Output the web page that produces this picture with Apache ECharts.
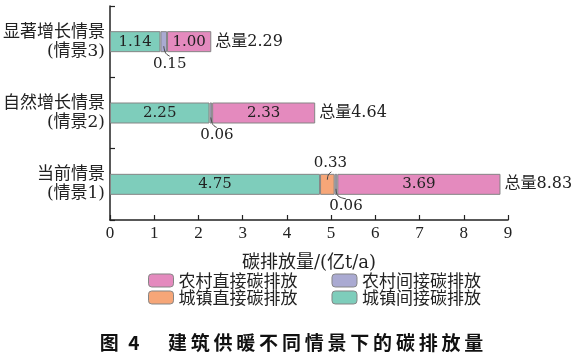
<!DOCTYPE html>
<html><head><meta charset="utf-8">
<script src="https://cdn.jsdelivr.net/npm/echarts@6/dist/echarts.min.js"></script>
<style>html,body{margin:0;padding:0;background:#fff}#c{width:583px;height:358px}</style>
</head><body><div id="c"></div>
<script>
var categories = ['当前情景\n(情景1)', '自然增长情景\n(情景2)', '显著增长情景\n(情景3)'];
var urbanIndirect = [4.75, 2.25, 1.14];
var urbanDirect = [0.33, 0, 0];
var ruralIndirect = [0.06, 0.06, 0.15];
var ruralDirect = [3.69, 2.33, 1.00];
var totals = [8.83, 4.64, 2.29];
var xTicks = [0, 1, 2, 3, 4, 5, 6, 7, 8, 9];
var seriesNames = ['城镇间接碳排放', '城镇直接碳排放', '农村间接碳排放', '农村直接碳排放'];

var NUM = "'DejaVu Serif','Noto Sans CJK SC'";
var CJK = "'Noto Sans CJK SC'";
var colors = ['#7ECDBB', '#F6A678', '#AAAAD2', '#E48ABE'];
var values = [urbanIndirect, urbanDirect, ruralIndirect, ruralDirect];

// annotations for small segments (outside labels with leader lines)
var notes = [];
for (var i = 0; i < categories.length; i++) {
  var start = 0;
  for (var s = 0; s < values.length; s++) {
    var v = values[s][i];
    if (v > 0 && v < 0.5) {
      var above = (s === 1);
      notes.push({mid: start + v / 2, cat: i, text: v.toFixed(2), above: above, shift: (i === 0 && !above) ? 10 : 6});
    }
    start += v;
  }
}

var barSeries = values.map(function (arr, s) {
  return {
    name: seriesNames[s], type: 'bar', stack: 'total', barWidth: 21,
    data: arr.map(function (v) { return v === 0 ? '-' : v; }),
    itemStyle: {color: colors[s], borderColor: '#858585', borderWidth: 1},
    label: {
      show: true, position: 'inside', color: '#222', fontFamily: NUM, fontSize: 15,
      formatter: function (p) { return p.value >= 0.5 ? p.value.toFixed(2) : ''; }
    },
    emphasis: {disabled: true}
  };
});

var noteSeries = {
  type: 'custom', silent: true, z: 10,
  data: notes.map(function (n) { return [n.mid, n.cat]; }),
  renderItem: function (params, api) {
    var n = notes[params.dataIndex];
    var c = api.coord([api.value(0), api.value(1)]);
    var h = 10.5, cx = c[0], cy = c[1], pts, tx, ty, va;
    if (n.above) {
      pts = [[cx, cy - h + 6], [cx + 1, cy - h + 1], [cx + 4, cy - h - 2]];
      tx = cx + 3; ty = cy - h - 3; va = 'bottom';
    } else {
      pts = [[cx, cy + h - 6], [cx + 2, cy + h + 1], [cx + n.shift, cy + h + 4]];
      tx = cx + n.shift; ty = cy + h + 4; va = 'top';
    }
    return {type: 'group', children: [
      {type: 'polyline', shape: {points: pts, smooth: 0.4}, style: {stroke: '#444', lineWidth: 1, fill: null}},
      {type: 'text', x: tx, y: ty, style: {text: n.text, textAlign: 'center', textVerticalAlign: va, font: '15px ' + NUM, fill: '#222'}}
    ]};
  }
};

var totalSeries = {
  type: 'custom', silent: true, z: 10,
  data: totals.map(function (t, i) { return [t, i]; }),
  renderItem: function (params, api) {
    var c = api.coord([api.value(0), api.value(1)]);
    return {type: 'text', x: c[0] + 4, y: c[1], style: {
      text: '总量' + api.value(0).toFixed(2), textAlign: 'left', textVerticalAlign: 'middle',
      font: '16px ' + NUM, fill: '#222'}};
  }
};

var chart = echarts.init(document.getElementById('c'));
chart.setOption({
  animation: false,
  color: colors,
  grid: {left: 110, right: 75, top: 6, bottom: 138},
  title: {
    text: '图\u20024\u2003\u2002建\u2009筑\u2009供\u2009暖\u2009不\u2009同\u2009情\u2009景\u2009下\u2009的\u2009碳\u2009排\u2009放\u2009量',
    left: 'center', top: 328,
    textStyle: {fontFamily: CJK, fontSize: 19, fontWeight: 'bold', color: '#111'}
  },
  legend: [
    {data: ['农村直接碳排放', '农村间接碳排放'], left: 148, top: 272, itemWidth: 25, itemHeight: 13, itemGap: 34,
     textStyle: {fontFamily: CJK, fontSize: 17, color: '#222'}, selectedMode: false,
     itemStyle: {borderColor: '#858585', borderWidth: 1}, padding: 0},
    {data: ['城镇直接碳排放', '城镇间接碳排放'], left: 148, top: 289, itemWidth: 25, itemHeight: 13, itemGap: 34,
     textStyle: {fontFamily: CJK, fontSize: 17, color: '#222'}, selectedMode: false,
     itemStyle: {borderColor: '#858585', borderWidth: 1}, padding: 0}
  ],
  xAxis: {
    type: 'value', min: 0, max: 9, interval: 1,
    name: '碳排放量/(亿t/a)', nameLocation: 'middle', nameGap: 34,
    nameTextStyle: {fontFamily: NUM, fontSize: 18, color: '#222'},
    axisLine: {show: true, lineStyle: {color: '#222', width: 1.5}},
    axisTick: {show: true, inside: true, length: 5, lineStyle: {color: '#222', width: 1.2}},
    axisLabel: {fontFamily: "'Liberation Serif'", fontSize: 17, color: '#222', margin: 5},
    splitLine: {show: false}
  },
  yAxis: {
    type: 'category', data: categories,
    axisLine: {show: true, lineStyle: {color: '#222', width: 1.5}},
    axisTick: {show: true, inside: true, length: 5, lineStyle: {color: '#222', width: 1.2}},
    axisLabel: {fontFamily: NUM, fontSize: 17, lineHeight: 19, color: '#222', margin: 5, align: 'right'}
  },
  series: barSeries.concat([noteSeries, totalSeries])
});
</script></body></html>
